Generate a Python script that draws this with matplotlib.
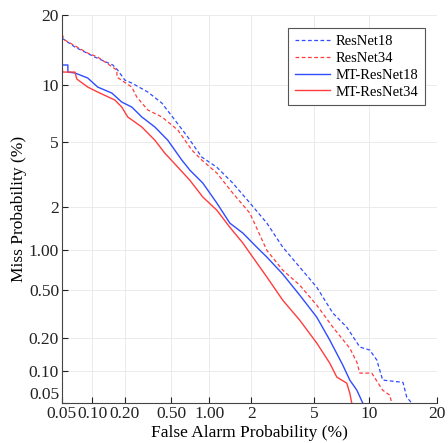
import numpy as np
import matplotlib
matplotlib.use("Agg")
import matplotlib.pyplot as plt
from statistics import NormalDist

# DET curves, values in percent (false alarm, miss)
resnet18_fa = [0.05, 0.0675, 0.105, 0.155, 0.172, 0.199, 0.230, 0.318, 0.418, 0.535, 0.68, 0.874,
               1.135, 1.485, 1.96, 2.55, 3.23, 4.12, 5.2, 6.42, 7.64, 8.94, 10.04, 10.87, 11.6,
               14.4, 14.97, 15.75]
resnet18_miss = [16.2, 14.84, 13.43, 12.37, 11.72, 10.54, 10.19, 9.22, 8.12, 6.63, 5.35, 4.11,
                 3.58, 2.86, 2.13, 1.56, 1.056, 0.75, 0.525, 0.324, 0.247, 0.166, 0.156, 0.127,
                 0.083, 0.079, 0.057, 0.05]

resnet34_fa = [0.05, 0.0536, 0.090, 0.112, 0.169, 0.169, 0.230, 0.255, 0.318, 0.418, 0.566, 0.731,
               0.874, 1.135, 1.485, 1.96, 2.55, 3.23, 4.12, 5.2, 6.42, 7.93, 8.63, 8.94, 10.27,
               11.6, 12.53, 12.8]
resnet34_miss = [16.8, 15.88, 13.97, 13.43, 11.72, 10.88, 9.75, 8.70, 7.48, 6.88, 5.85, 4.52,
                 3.95, 3.30, 2.47, 1.82, 1.00, 0.712, 0.545, 0.377, 0.247, 0.162, 0.1215, 0.0964,
                 0.0964, 0.0667, 0.0597, 0.05]

mt18_fa = [0.05, 0.0575, 0.0575, 0.0675, 0.09, 0.112, 0.152, 0.187, 0.230, 0.282, 0.365, 0.468,
           0.609, 0.705, 0.89, 1.135, 1.414, 1.75, 2.18, 2.55, 3.23, 4.12, 5.2, 6.17, 7.28, 7.93,
           8.63, 9.26]
mt18_miss = [12.37, 12.37, 11.48, 11.37, 10.77, 9.75, 9.11, 8.22, 7.75, 6.88, 6.08, 5.14,
             3.95, 3.44, 2.86, 2.13, 1.56, 1.33, 1.056, 0.892, 0.664, 0.454, 0.30, 0.191, 0.114,
             0.083, 0.0667, 0.05]

mt34_fa = [0.05, 0.051, 0.0675, 0.0705, 0.09, 0.112, 0.162, 0.187, 0.212, 0.282, 0.365, 0.442,
           0.566, 0.705, 0.89, 1.135, 1.414, 1.75, 1.96, 2.55, 3.23, 4.12, 5.2, 6.17, 6.75, 7.64,
           7.93, 8.12]
mt34_miss = [12.5, 11.48, 11.48, 10.65, 9.75, 9.22, 8.41, 7.75, 6.88, 6.08, 5.14, 4.34,
             3.58, 2.98, 2.33, 1.91, 1.46, 1.13, 0.954, 0.63, 0.414, 0.283, 0.18, 0.119, 0.0885,
             0.0777, 0.0624, 0.05]

tick_vals = [0.05, 0.1, 0.2, 0.5, 1, 2, 5, 10, 20]
tick_labels = ["0.05", "0.10", "0.20", "0.50", "1.00", "2", "5", "10", "20"]

nd = NormalDist()
_ppf = np.vectorize(nd.inv_cdf, otypes=[float])
_cdf = np.vectorize(nd.cdf, otypes=[float])


# probit scale used by DET plots
def probit(p):
    p = np.clip(np.asarray(p, dtype=float) / 100.0, 1e-9, 1 - 1e-9)
    return _ppf(p)


def inv_probit(z):
    return _cdf(np.asarray(z, dtype=float)) * 100.0


plt.rcParams["font.family"] = ["Liberation Serif", "DejaVu Serif"]

fig = plt.figure(figsize=(4.48, 4.43), dpi=100)
ax = fig.add_axes([0.138, 0.090, 0.837, 0.876])

blue = "#2f4cff"
red = "#ff3d3d"
ax.plot(resnet18_fa, resnet18_miss, color=blue, lw=0.9, ls=(0, (3, 2)), label="ResNet18")
ax.plot(resnet34_fa, resnet34_miss, color=red, lw=0.9, ls=(0, (3, 2)), label="ResNet34")
ax.plot(mt18_fa, mt18_miss, color=blue, lw=1.0, label="MT-ResNet18")
ax.plot(mt34_fa, mt34_miss, color=red, lw=1.0, label="MT-ResNet34")

ax.set_xscale("function", functions=(probit, inv_probit))
ax.set_yscale("function", functions=(probit, inv_probit))
ax.set_xlim(0.05, 20)
ax.set_ylim(0.05, 20)
ax.set_xticks(tick_vals)
ax.set_xticklabels(tick_labels)
ax.set_yticks(tick_vals)
ax.set_yticklabels(tick_labels)
ax.minorticks_off()
# lowest y label sits just above the x axis, as in the original
ax.get_yticklabels()[0].set_va("bottom")

ax.grid(True, color="#e8e8e8", lw=0.6)
ax.set_axisbelow(True)
for s in ["top", "right"]:
    ax.spines[s].set_visible(False)
for s in ["left", "bottom"]:
    ax.spines[s].set_color("#444444")
ax.tick_params(direction="in", length=4, labelsize=12.5, colors="#222222", pad=2)

ax.set_xlabel("False Alarm Probability (%)", fontsize=12.5, labelpad=2)
ax.set_ylabel("Miss Probability (%)", fontsize=12.5, labelpad=1)

leg = ax.legend(loc="upper right", bbox_to_anchor=(0.968, 0.966), borderaxespad=0,
                fontsize=10.5, fancybox=False, edgecolor="#555555", framealpha=1,
                handlelength=2.4, borderpad=0.45, labelspacing=0.25, handletextpad=0.4)
leg.get_frame().set_linewidth(0.8)

fig.savefig("out.png", dpi=100)
